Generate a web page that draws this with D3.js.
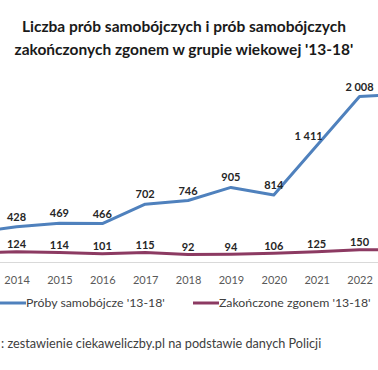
<!DOCTYPE html>
<html><head><meta charset="utf-8">
<script src="https://cdn.jsdelivr.net/npm/d3@7"></script>
<style>
html,body{margin:0;padding:0;background:#fff;overflow:hidden}
svg{display:block;font-family:Lato,"Open Sans",sans-serif}
</style></head>
<body>
<svg id="c" width="378" height="370"></svg>
<script>
const years = [2013,2014,2015,2016,2017,2018,2019,2020,2021,2022,2023];
const attempts = [360,428,469,466,702,746,905,814,1411,2008,2040];
const deaths = [108,124,114,101,115,92,94,106,125,150,146];
const labelsAttempts = ["360","428","469","466","702","746","905","814","1 411","2 008","2 040"];
const labelsDeaths = ["108","124","114","101","115","92","94","106","125","150","146"];
const titleLines = ["Liczba prób samobójczych i prób samobójczych","zakończonych zgonem w grupie wiekowej '13-18'"];
const seriesNames = ["Próby samobójcze '13-18'","Zakończone zgonem '13-18'"];
const sourceText = ": zestawienie ciekaweliczby.pl na podstawie danych Policji";

const W = 378, H = 370;
const svg = d3.select("#c");
const blue = "#4F81BD", purple = "#8C3A62";

const x = d3.scalePoint().domain(years).range([-26.3, 402.4]);
const y = d3.scaleLinear().domain([0, 2200]).range([262, 262 - 2200*0.0824]);
const vis = i => x(years[i]) > 8 && x(years[i]) < W - 8;
const visibleYears = years.filter((d,i)=>vis(i));

// title
svg.append("g").selectAll("text").data(titleLines).join("text")
  .attr("x", 184).attr("y", (d,i)=>32 + i*22.5)
  .attr("text-anchor","middle").attr("font-weight","bold")
  .attr("font-size",15.5).attr("fill","#1a1a1a").text(d=>d);

// axis
const axis = d3.axisBottom(x).tickValues(visibleYears).tickSize(0).tickPadding(0).tickFormat(d=>String(d));
const ag = svg.append("g").attr("transform","translate(0,262)").call(axis);
ag.select(".domain").remove();
ag.append("line").attr("x1",0).attr("x2",W).attr("y1",0.5).attr("y2",0.5).attr("stroke","#d9d9d9");
ag.selectAll(".tick text").attr("y",21.5).attr("dy",null).attr("font-size",11)
  .attr("fill","#595959").attr("font-family","Lato,sans-serif");

// lines
const line = d3.line().x((d,i)=>x(years[i])).y(d=>y(d));
svg.append("path").datum(attempts).attr("d",line).attr("fill","none")
  .attr("stroke",blue).attr("stroke-width",3).attr("stroke-linejoin","round");
svg.append("path").datum(deaths).attr("d",line).attr("fill","none")
  .attr("stroke",purple).attr("stroke-width",3).attr("stroke-linejoin","round");

// data labels
const dxA = {2021:-8};
svg.append("g").selectAll("text").data(attempts.map((v,i)=>({v,i})).filter(d=>vis(d.i))).join("text")
  .attr("x",d=>x(years[d.i]) + (dxA[years[d.i]]||0)).attr("y",d=>y(d.v)-6)
  .attr("text-anchor","middle").attr("font-weight","bold").attr("font-size",11)
  .attr("fill","#262626").text(d=>labelsAttempts[d.i]);
svg.append("g").selectAll("text").data(deaths.map((v,i)=>({v,i})).filter(d=>vis(d.i))).join("text")
  .attr("x",d=>x(years[d.i])).attr("y",d=>y(d.v)-3.5)
  .attr("text-anchor","middle").attr("font-weight","bold").attr("font-size",11)
  .attr("fill","#262626").text(d=>labelsDeaths[d.i]);

// legend
const lg = svg.append("g");
const items = [{x0:0,x1:26,c:blue},{x0:193,x1:219,c:purple}];
items.forEach((it,i)=>{
  lg.append("line").attr("x1",it.x0).attr("x2",it.x1).attr("y1",303).attr("y2",303)
    .attr("stroke",it.c).attr("stroke-width",3);
  lg.append("text").attr("x",it.x1).attr("y",307).attr("font-size",12.3)
    .attr("fill","#404040").text(seriesNames[i]);
});

// source
svg.append("text").attr("x",1).attr("y",348).attr("font-size",12.7)
  .attr("fill","#404040").text(sourceText);
</script>
</body></html>
